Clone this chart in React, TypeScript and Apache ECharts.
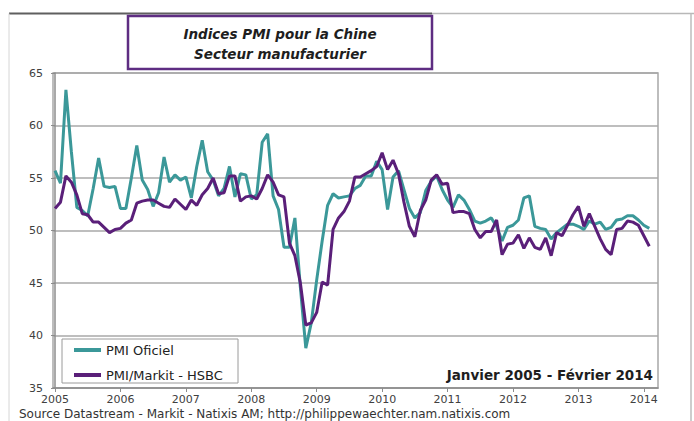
import React, { useEffect, useRef } from "react";
import * as echarts from "echarts";

// Monthly values, Jan 2005 .. Feb 2014
const pmiOfficiel: number[] = [
  // 2005
  55.7, 54.5, 63.4, 57.5, 52.2, 51.9, 51.4, 54.0, 56.9, 54.2, 54.1, 54.2,
  // 2006
  52.1, 52.1, 55.0, 58.1, 54.8, 53.9, 52.3, 53.6, 57.0, 54.6, 55.3, 54.8,
  // 2007
  55.1, 53.1, 56.1, 58.6, 55.6, 54.8, 53.3, 54.0, 56.1, 53.2, 55.4, 55.3,
  // 2008
  53.0, 53.4, 58.4, 59.2, 53.3, 52.0, 48.4, 48.4, 51.2, 44.6, 38.8, 41.2,
  // 2009
  45.3, 49.0, 52.4, 53.5, 53.1, 53.2, 53.3, 54.0, 54.3, 55.2, 55.2, 56.6,
  // 2010
  55.8, 52.0, 55.1, 55.7, 53.9, 52.1, 51.2, 51.7, 53.8, 54.7, 55.2, 53.9,
  // 2011
  52.9, 52.2, 53.4, 52.9, 52.0, 50.9, 50.7, 50.9, 51.2, 50.4, 49.0, 50.3,
  // 2012
  50.5, 51.0, 53.1, 53.3, 50.4, 50.2, 50.1, 49.2, 49.8, 50.2, 50.6, 50.6,
  // 2013
  50.4, 50.1, 50.9, 50.6, 50.8, 50.1, 50.3, 51.0, 51.1, 51.4, 51.4, 51.0,
  // 2014
  50.5, 50.2,
];

const pmiHsbc: number[] = [
  // 2005
  52.1, 52.7, 55.2, 54.6, 53.4, 51.6, 51.5, 50.8, 50.8, 50.3, 49.8, 50.1,
  // 2006
  50.2, 50.7, 51.0, 52.6, 52.8, 52.9, 52.9, 52.6, 52.3, 52.2, 53.0, 52.5,
  // 2007
  52.0, 52.9, 52.4, 53.4, 54.0, 55.0, 53.5, 53.6, 55.2, 55.2, 52.8, 53.2,
  // 2008
  53.3, 53.0, 54.0, 55.3, 54.6, 53.4, 53.2, 48.8, 47.6, 45.0, 41.0, 41.2,
  // 2009
  42.2, 45.1, 44.8, 50.1, 51.2, 51.8, 52.8, 55.1, 55.1, 55.4, 55.7, 56.1,
  // 2010
  57.4, 55.8, 56.7, 55.4, 52.7, 50.4, 49.4, 51.9, 52.9, 54.8, 55.3, 54.4,
  // 2011
  54.5, 51.7, 51.8, 51.8, 51.6, 50.1, 49.3, 49.9, 49.9, 51.0, 47.7, 48.7,
  // 2012
  48.8, 49.6, 48.3, 49.3, 48.4, 48.2, 49.3, 47.6, 49.8, 49.5, 50.5, 51.5,
  // 2013
  52.3, 50.4, 51.6, 50.4, 49.2, 48.2, 47.7, 50.1, 50.2, 50.9, 50.8, 50.5,
  // 2014
  49.5, 48.5,
];

const startYear = 2005;
const yearTicks: number[] = [0, 12, 24, 36, 48, 60, 72, 84, 96, 108];

const seriesNames = ["PMI Oficiel", "PMI/Markit - HSBC"];
const titleLines = ["Indices PMI pour la Chine", "Secteur manufacturier"];
const periodText = "Janvier 2005 - Février 2014";
const sourceText =
  "Source Datastream - Markit - Natixis AM; http://philippewaechter.nam.natixis.com";

const TEAL = "#3b9899";
const PURPLE = "#5a1f79";
const FONT = "DejaVu Sans";

export default function App() {
  const ref = useRef<HTMLDivElement>(null);

  useEffect(() => {
    if (!ref.current) return;
    const chart = echarts.init(ref.current, undefined, { renderer: "svg" });

    const toPairs = (arr: number[]) => arr.map((v, i) => [i, v]);

    chart.setOption({
      animation: false,
      backgroundColor: "#ffffff",
      grid: {
        left: 53,
        right: 36,
        top: 73,
        bottom: 33,
        show: true,
        borderColor: "#a8a8a8",
        borderWidth: 1.5,
        backgroundColor: "transparent",
      },
      xAxis: {
        type: "value",
        min: -0.37,
        max: 110.6,
        axisLine: { show: true, onZero: false, lineStyle: { color: "#8c8c8c", width: 1.5 } },
        axisTick: {
          show: true,
          length: 4,
          customValues: yearTicks,
          lineStyle: { color: "#8c8c8c" },
        },
        axisLabel: {
          customValues: yearTicks,
          formatter: (v: number) => String(startYear + Math.round(v / 12)),
          fontFamily: FONT,
          fontSize: 11,
          lineHeight: 12,
          color: "#404040",
          margin: 5,
        },
        splitLine: { show: false },
      },
      yAxis: {
        type: "value",
        min: 35,
        max: 65,
        interval: 5,
        axisLine: { show: true, lineStyle: { color: "#8c8c8c", width: 1.5 } },
        axisTick: { show: true, length: 4, lineStyle: { color: "#8c8c8c" } },
        axisLabel: {
          fontFamily: FONT,
          fontSize: 11,
          color: "#404040",
          margin: 10,
        },
        splitLine: { show: true, lineStyle: { color: "#a8a8a8", width: 1.5 } },
      },
      legend: {
        show: true,
        orient: "vertical",
        left: 69,
        top: 337,
        z: 20,
        itemWidth: 27,
        itemHeight: 4,
        itemGap: 9,
        icon: "rect",
        data: seriesNames,
        textStyle: { fontFamily: FONT, fontSize: 13, color: "#222", lineHeight: 16 },
      },
      series: [
        {
          name: seriesNames[0],
          type: "line",
          data: toPairs(pmiOfficiel),
          showSymbol: false,
          symbol: "none",
          lineStyle: { color: TEAL, width: 3 },
          itemStyle: { color: TEAL },
          z: 2,
        },
        {
          name: seriesNames[1],
          type: "line",
          data: toPairs(pmiHsbc),
          showSymbol: false,
          symbol: "none",
          lineStyle: { color: PURPLE, width: 3 },
          itemStyle: { color: PURPLE },
          z: 3,
        },
      ],
      graphic: [
        // outer frame of the figure
        { type: "line", z: 1, shape: { x1: 9, y1: 13.5, x2: 432, y2: 13.5 }, style: { stroke: "#5f5f5f", lineWidth: 2 } },
        { type: "line", z: 1, shape: { x1: 432, y1: 13.5, x2: 694, y2: 13.5 }, style: { stroke: "#b8b8b8", lineWidth: 1.5 } },
        { type: "line", z: 1, shape: { x1: 691, y1: 13.5, x2: 691, y2: 421 }, style: { stroke: "#bdbdbd", lineWidth: 1.5 } },
        { type: "line", z: 1, shape: { x1: 9, y1: 13.5, x2: 9, y2: 421 }, style: { stroke: "#d6d6d6", lineWidth: 1 } },
        // title box
        {
          type: "rect",
          z: 10,
          shape: { x: 128, y: 16, width: 304, height: 53 },
          style: { fill: "#ffffff", stroke: "#5e2d82", lineWidth: 2.5 },
        },
        {
          type: "text",
          x: 280,
          y: 34,
          z: 11,
          style: {
            text: titleLines[0],
            align: "center",
            verticalAlign: "middle",
            fontFamily: FONT,
            fontSize: 13.5,
            fontWeight: "bold",
            fontStyle: "italic",
            fill: "#1e1e1e",
          },
        },
        {
          type: "text",
          x: 280,
          y: 54,
          z: 11,
          style: {
            text: titleLines[1],
            align: "center",
            verticalAlign: "middle",
            fontFamily: FONT,
            fontSize: 13.5,
            fontWeight: "bold",
            fontStyle: "italic",
            fill: "#1e1e1e",
          },
        },
        // legend box
        {
          type: "rect",
          z: 1,
          shape: { x: 62, y: 339, width: 176, height: 44 },
          style: { fill: "#ffffff", stroke: "#9a9a9a", lineWidth: 1 },
        },
        {
          type: "text",
          x: 653,
          y: 375,
          z: 11,
          style: {
            text: periodText,
            align: "right",
            verticalAlign: "middle",
            fontFamily: FONT,
            fontSize: 13.5,
            fontWeight: "bold",
            fill: "#1e1e1e",
          },
        },
        {
          type: "text",
          x: 19,
          y: 414,
          z: 11,
          style: {
            text: sourceText,
            align: "left",
            verticalAlign: "middle",
            fontFamily: FONT,
            fontSize: 12,
            lineHeight: 13,
            fill: "#333333",
          },
        },
      ],
    });

    return () => chart.dispose();
  }, []);

  return (
    <div
      ref={ref}
      style={{ position: "fixed", left: 0, top: 0, width: 694, height: 421, background: "#fff" }}
    />
  );
}
